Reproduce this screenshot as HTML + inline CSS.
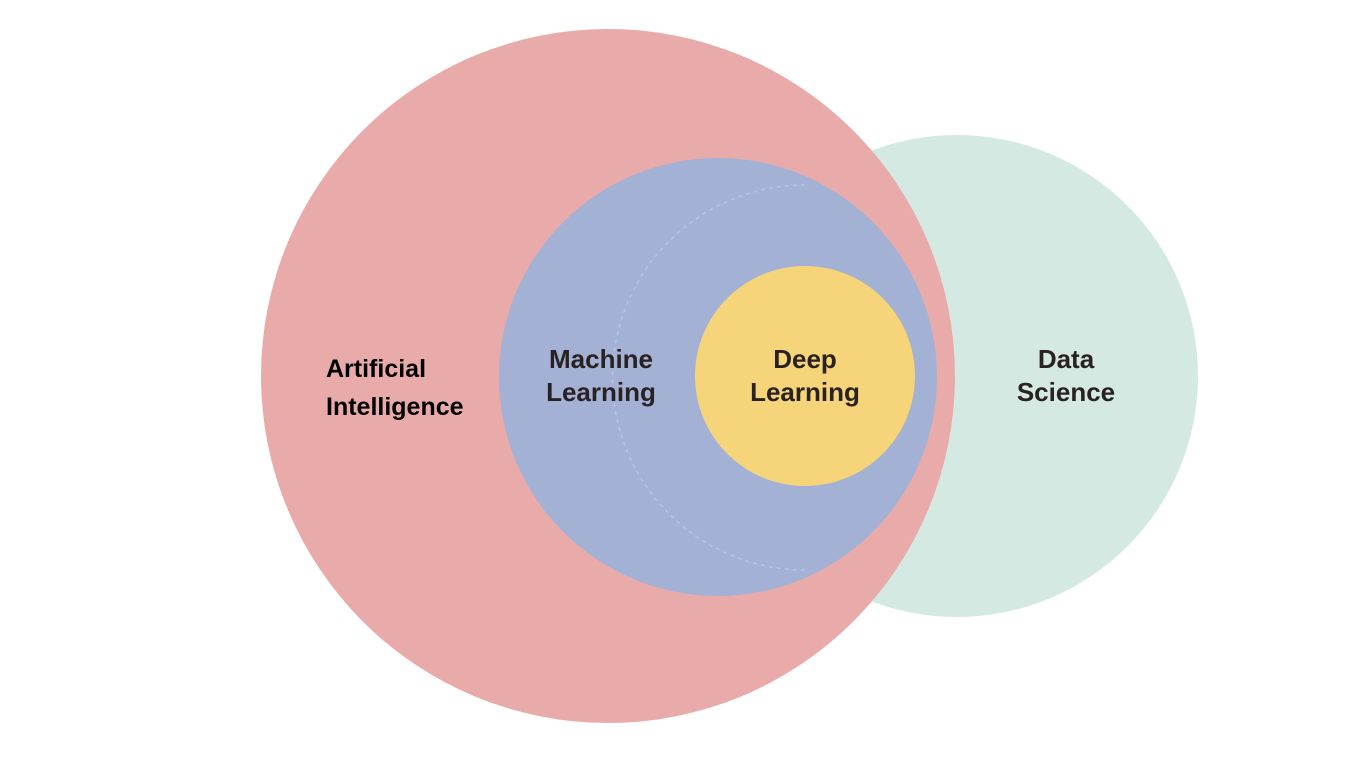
<!DOCTYPE html>
<html><head><style>
body{margin:0;width:1366px;height:768px;background:#fff;overflow:hidden}
svg{display:block}
</style></head><body>
<svg width="1366" height="768" xmlns="http://www.w3.org/2000/svg">
<circle cx="957" cy="376" r="241" fill="#d5e9e3"/>
<circle cx="608" cy="376" r="347" fill="#e9aba9"/>
<circle cx="718" cy="377" r="219" fill="#a3b1d5"/>
<path d="M805 185 A190 190 0 0 0 805 570" fill="none" stroke="#b8c4e0" stroke-width="1.5" stroke-dasharray="4 4"/>
<circle cx="805" cy="376" r="110" fill="#f5d47a"/>
<g font-family="Liberation Sans, sans-serif" font-weight="bold">
<text x="326" y="377" font-size="25" fill="#000">Artificial</text>
<text x="326" y="415" font-size="25" fill="#000">Intelligence</text>
<g font-size="26" fill="#2a2222" text-anchor="middle">
<text x="601" y="368">Machine</text>
<text x="601" y="401">Learning</text>
<text x="805" y="368">Deep</text>
<text x="805" y="401">Learning</text>
<text x="1066" y="368">Data</text>
<text x="1066" y="401">Science</text>
</g></g>
</svg>
</body></html>
